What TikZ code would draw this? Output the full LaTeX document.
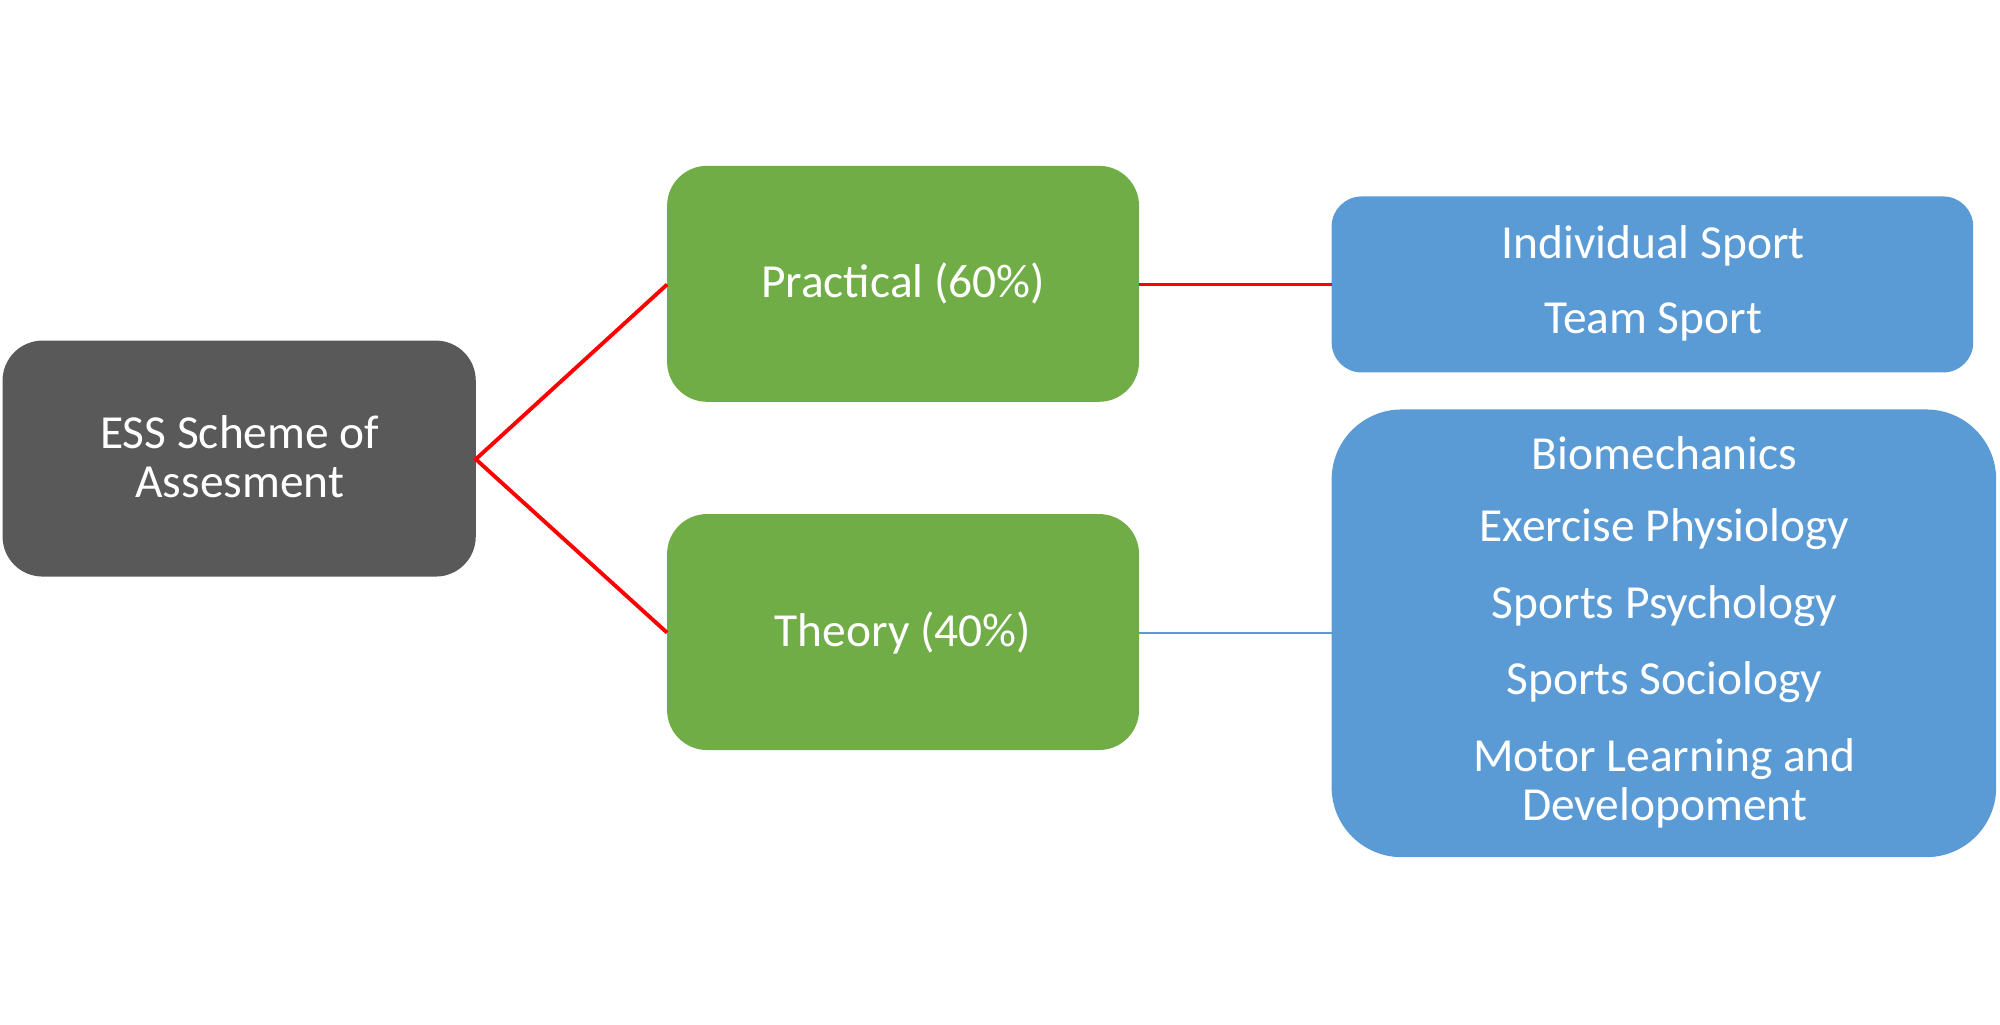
\documentclass[tikz,border=0pt]{standalone}
\usepackage{fontspec}
\setmainfont{Carlito}
\definecolor{gr}{HTML}{595959}
\definecolor{gn}{HTML}{70AD47}
\definecolor{bl}{HTML}{5B9BD5}
\begin{document}
\begin{tikzpicture}[x=0.012755cm,y=-0.012755cm,
 box/.style={draw=none,rounded corners=#1},
 txt/.style={text=white,font=\fontsize{13.5pt}{16pt}\selectfont,align=center},
 red/.style={draw=red,line width=1.1pt}]
\useasboundingbox (0,0) rectangle (1568,803);
\fill[gr,box=4mm] (2,267) rectangle (373,452);
\fill[gn,box=4mm] (523,130) rectangle (893,315);
\fill[gn,box=4mm] (523,403) rectangle (893,588);
\fill[bl,box=3mm] (1044,154) rectangle (1547,292);
\fill[bl,box=7mm] (1044,321) rectangle (1565,672);
\coordinate (ess) at (373,360);
\coordinate (pl) at (523,223); \coordinate (pr) at (893,223);
\coordinate (tl) at (523,496); \coordinate (tr) at (893,496);
\coordinate (b1) at (1044,223); \coordinate (b2) at (1044,496);
\draw[red] (pl) -- (ess) -- (tl);
\draw[red] (pr) -- (b1);
\draw[bl,line width=0.5pt] (tr) -- (b2);
\node[txt] (e) at (188,358) {ESS Scheme of\\[-2pt]Assesment};
\node[txt] (p) at (708,222) {Practical (60\%)};
\node[txt] (t) at (708,496) {Theory (40\%)};
\node[txt] (i1) at (1296,193) {Individual Sport};
\node[txt] (i2) at (1296,252) {Team Sport};
\node[txt] (j1) at (1305,355) {Biomechanics};
\node[txt] (j2) at (1305,415) {Exercise Physiology};
\node[txt] (j3) at (1305,475) {Sports Psychology};
\node[txt] (j4) at (1305,535) {Sports Sociology};
\node[txt] (j5) at (1305,614) {Motor Learning and\\[-2pt]Developoment};
\end{tikzpicture}
\end{document}
